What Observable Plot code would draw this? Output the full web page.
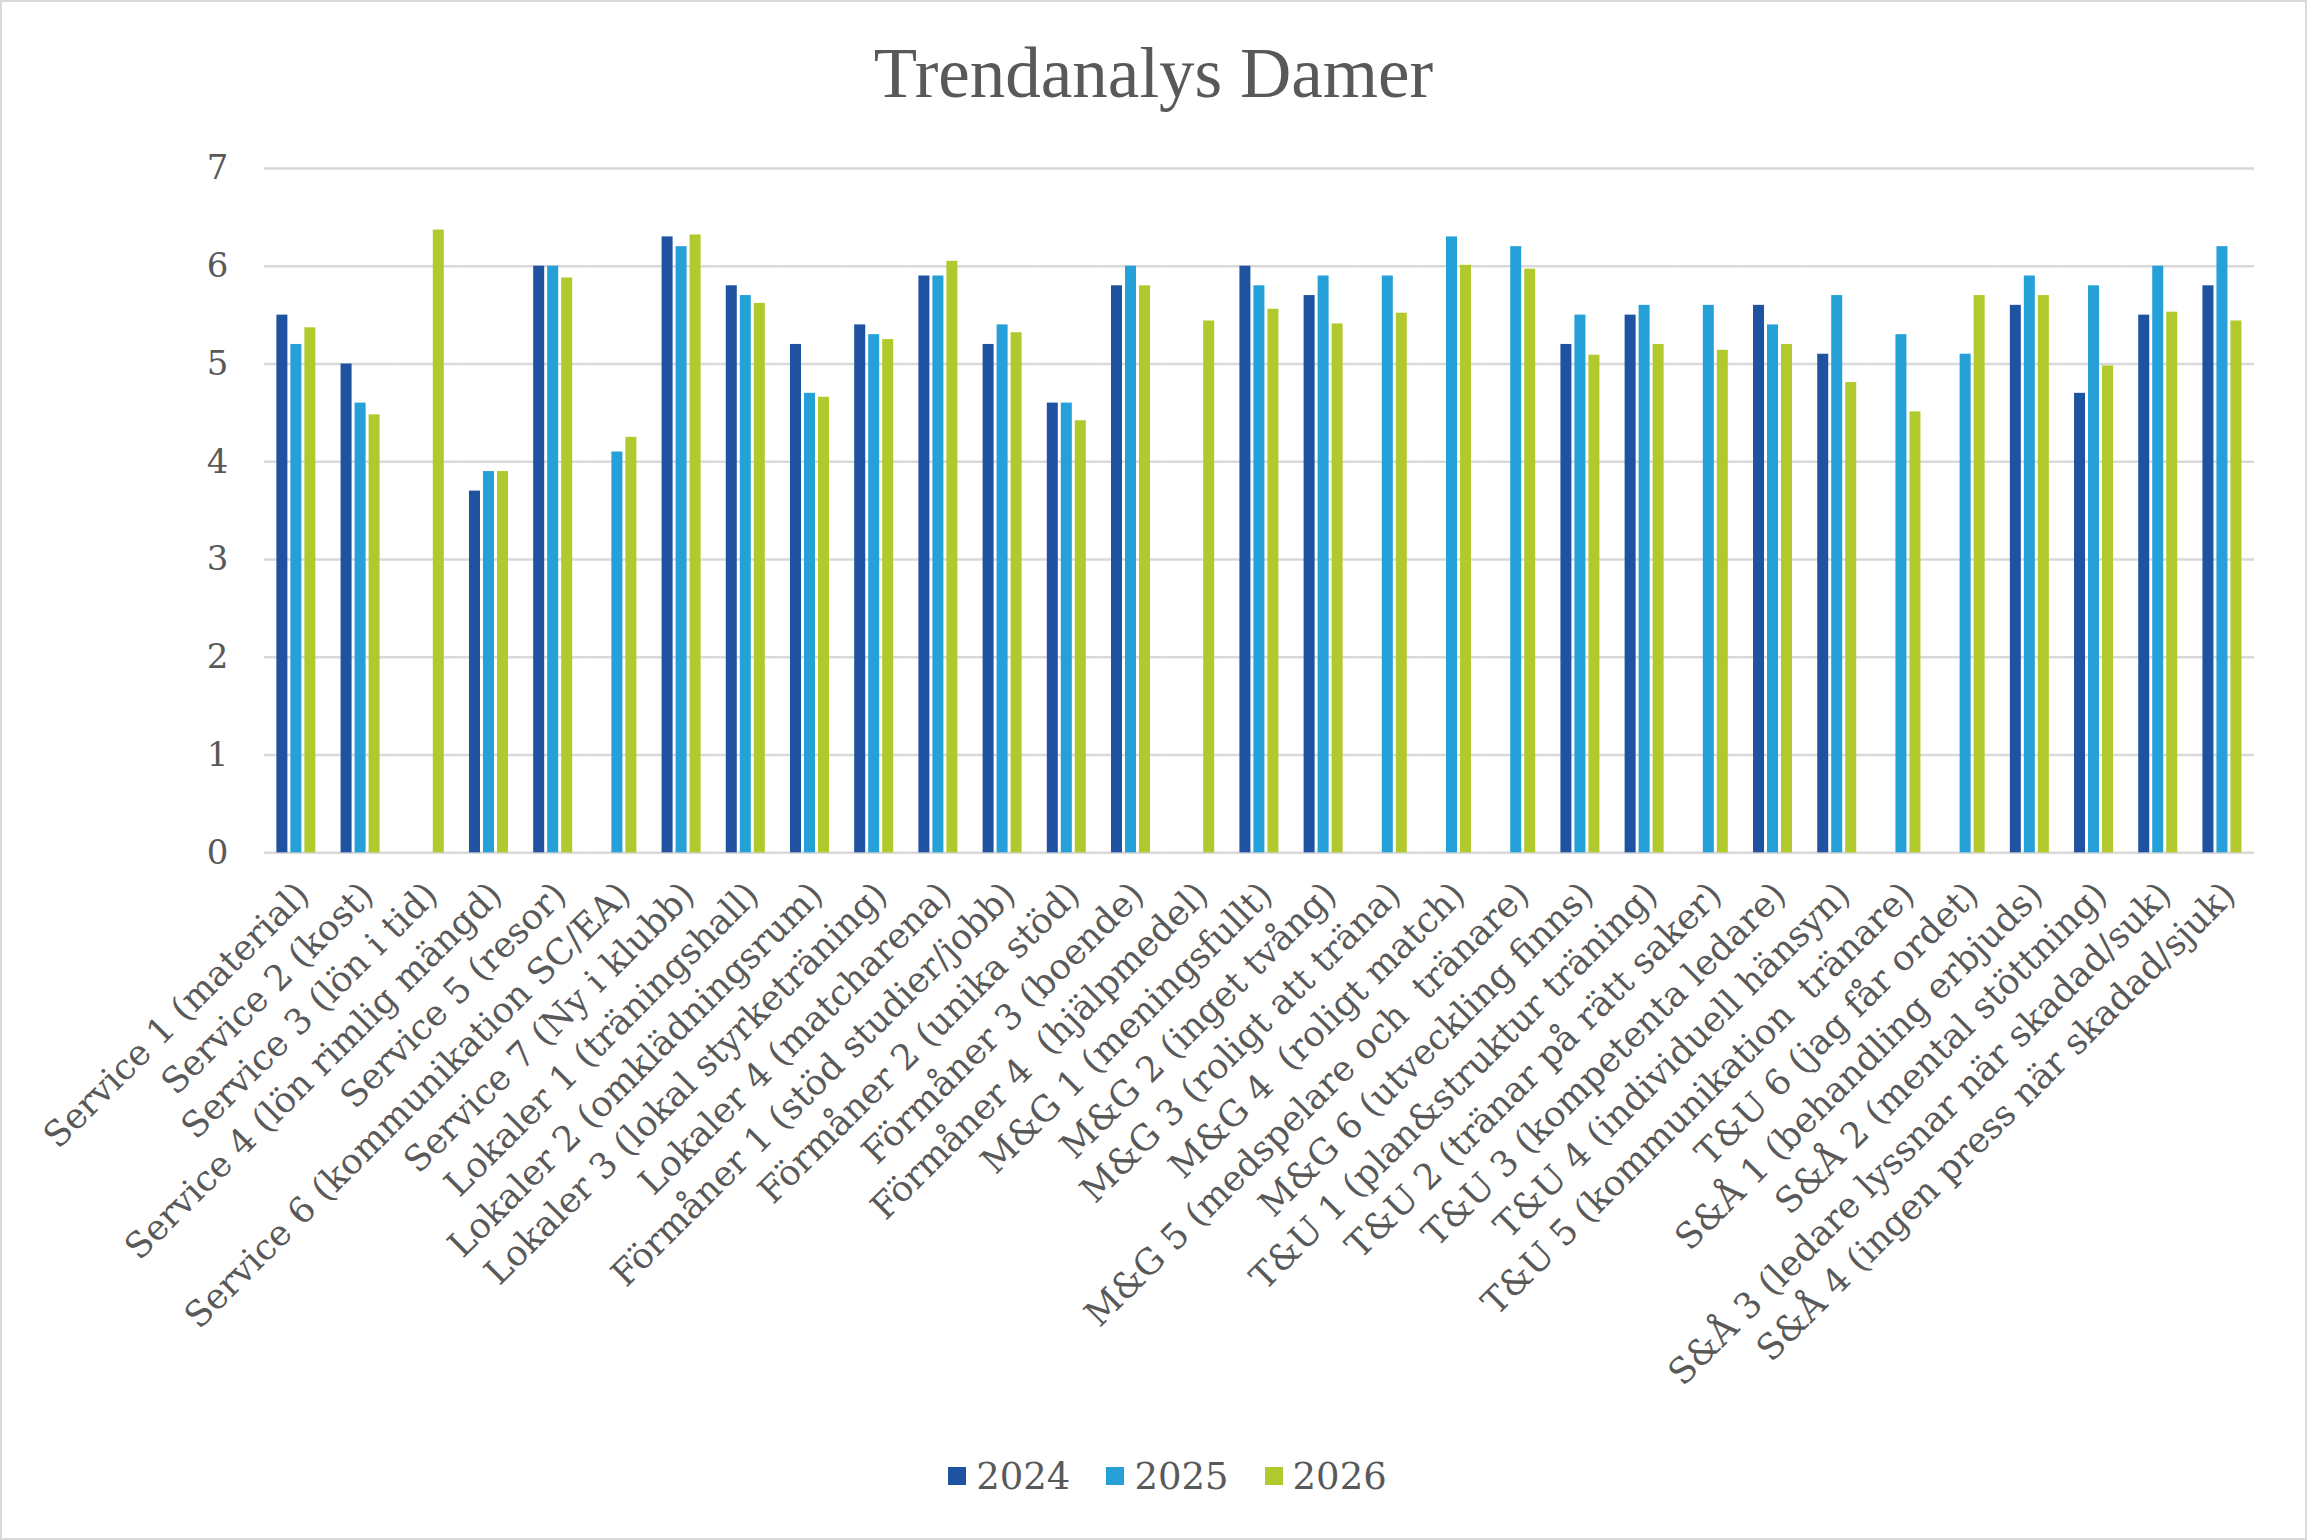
<!DOCTYPE html>
<html>
<head>
<meta charset="utf-8">
<script src="https://cdn.jsdelivr.net/npm/d3@7"></script>
<script src="https://cdn.jsdelivr.net/npm/@observablehq/plot@0.6"></script>
<style>
  html, body { margin: 0; padding: 0; background: #fff; }
  #chart { position: relative; width: 2307px; height: 1540px; box-sizing: border-box; border: 2px solid #d9d9d9; background: #fff; overflow: hidden; }
  #title { position: absolute; left: 0; width: 2303px; top: 36px; text-align: center; font-family: "Liberation Serif", "Times New Roman", serif; font-size: 71px; line-height: 71px; color: #595959; }
  #plot { position: absolute; left: -2px; top: 118px; }
  #legend { position: absolute; left: 14px; width: 2303px; top: 1452px; height: 44px; display: flex; justify-content: center; align-items: center; gap: 36px; font-family: "DejaVu Serif", serif; font-size: 37px; color: #595959; }
  .item { display: flex; align-items: center; gap: 10px; }
  .sw { width: 18px; height: 18px; display: inline-block; }
</style>
</head>
<body>
<div id="chart">
  <div id="title">Trendanalys Damer</div>
  <div id="plot"></div>
  <div id="legend"></div>
</div>
<script>
const categories = [
  "Service 1 (material)",
  "Service 2 (kost)",
  "Service 3 (lön i tid)",
  "Service 4 (lön rimlig mängd)",
  "Service 5 (resor)",
  "Service 6 (kommunikation SC/EA)",
  "Service 7 (Ny i klubb)",
  "Lokaler 1 (träningshall)",
  "Lokaler 2 (omklädningsrum)",
  "Lokaler 3 (lokal styrketräning)",
  "Lokaler 4 (matcharena)",
  "Förmåner 1 (stöd studier/jobb)",
  "Förmåner 2 (unika stöd)",
  "Förmåner 3 (boende)",
  "Förmåner 4  (hjälpmedel)",
  "M&G 1 (meningsfullt)",
  "M&G 2 (inget tvång)",
  "M&G 3 (roligt att träna)",
  "M&G 4  (roligt match)",
  "M&G 5 (medspelare och  tränare)",
  "M&G 6 (utveckling finns)",
  "T&U 1 (plan&struktur träning)",
  "T&U 2 (tränar på rätt saker)",
  "T&U 3 (kompetenta ledare)",
  "T&U 4 (individuell hänsyn)",
  "T&U 5 (kommunikation  tränare)",
  "T&U 6 (jag får ordet)",
  "S&Å 1 (behandling erbjuds)",
  "S&Å 2 (mental stöttning)",
  "S&Å 3 (ledare lyssnar när skadad/suk)",
  "S&Å 4 (ingen press när skadad/sjuk)"
];
const years = ["2024", "2025", "2026"];
const values2024 = [5.5, 5.0, null, 3.7, 6.0, null, 6.3, 5.8, 5.2, 5.4, 5.9, 5.2, 4.6, 5.8, null, 6.0, 5.7, null, null, null, 5.2, 5.5, null, 5.6, 5.1, null, null, 5.6, 4.7, 5.5, 5.8];
const values2025 = [5.2, 4.6, null, 3.9, 6.0, 4.1, 6.2, 5.7, 4.7, 5.3, 5.9, 5.4, 4.6, 6.0, null, 5.8, 5.9, 5.9, 6.3, 6.2, 5.5, 5.6, 5.6, 5.4, 5.7, 5.3, 5.1, 5.9, 5.8, 6.0, 6.2];
const values2026 = [5.37, 4.48, 6.37, 3.9, 5.88, 4.25, 6.32, 5.62, 4.66, 5.25, 6.05, 5.32, 4.42, 5.8, 5.44, 5.56, 5.41, 5.52, 6.01, 5.97, 5.09, 5.2, 5.14, 5.2, 4.81, 4.51, 5.7, 5.7, 4.98, 5.53, 5.44];
const yTicks = [0, 1, 2, 3, 4, 5, 6, 7];
const colors = ["#1f53a1", "#25a0d9", "#b2c92e"];

const series = [values2024, values2025, values2026];
const data = [];
categories.forEach((c, i) => {
  years.forEach((y, j) => {
    const v = series[j][i];
    if (v != null) data.push({category: c, year: y, value: v});
  });
});

const textColor = "#595959";
const plot = Plot.plot({
  width: 2307,
  height: 1293,
  marginLeft: 264,
  marginRight: 51,
  marginTop: 48,
  marginBottom: 560,
  style: {fontFamily: "'DejaVu Serif', serif", color: textColor, background: "transparent"},
  fx: {domain: categories, padding: 0, round: false, label: null},
  x: {domain: years, paddingInner: 0.214, paddingOuter: 0.9, round: false, axis: null},
  y: {domain: [0, 7], label: null},
  color: {domain: years, range: colors},
  marks: [
    Plot.ruleY(yTicks, {stroke: "#d9d9d9", strokeWidth: 2.5}),
    Plot.barY(data, {fx: "category", x: "year", y: "value", fill: "year", inset: 0}),
    Plot.axisY(yTicks, {tickSize: 0, tickPadding: 36, fontSize: 34, fill: textColor, label: null, tickFormat: d => String(d)}),
    Plot.axisFx({anchor: "bottom", tickRotate: -45, tickSize: 0, tickPadding: 36, dx: 7, fontSize: 35.5, fill: textColor, label: null, lineWidth: Infinity})
  ]
});
document.getElementById("plot").appendChild(plot);

const legend = document.getElementById("legend");
years.forEach((y, j) => {
  const item = document.createElement("div");
  item.className = "item";
  const sw = document.createElement("span");
  sw.className = "sw";
  sw.style.background = colors[j];
  const t = document.createElement("span");
  t.textContent = y;
  item.appendChild(sw);
  item.appendChild(t);
  legend.appendChild(item);
});
</script>
</body>
</html>
